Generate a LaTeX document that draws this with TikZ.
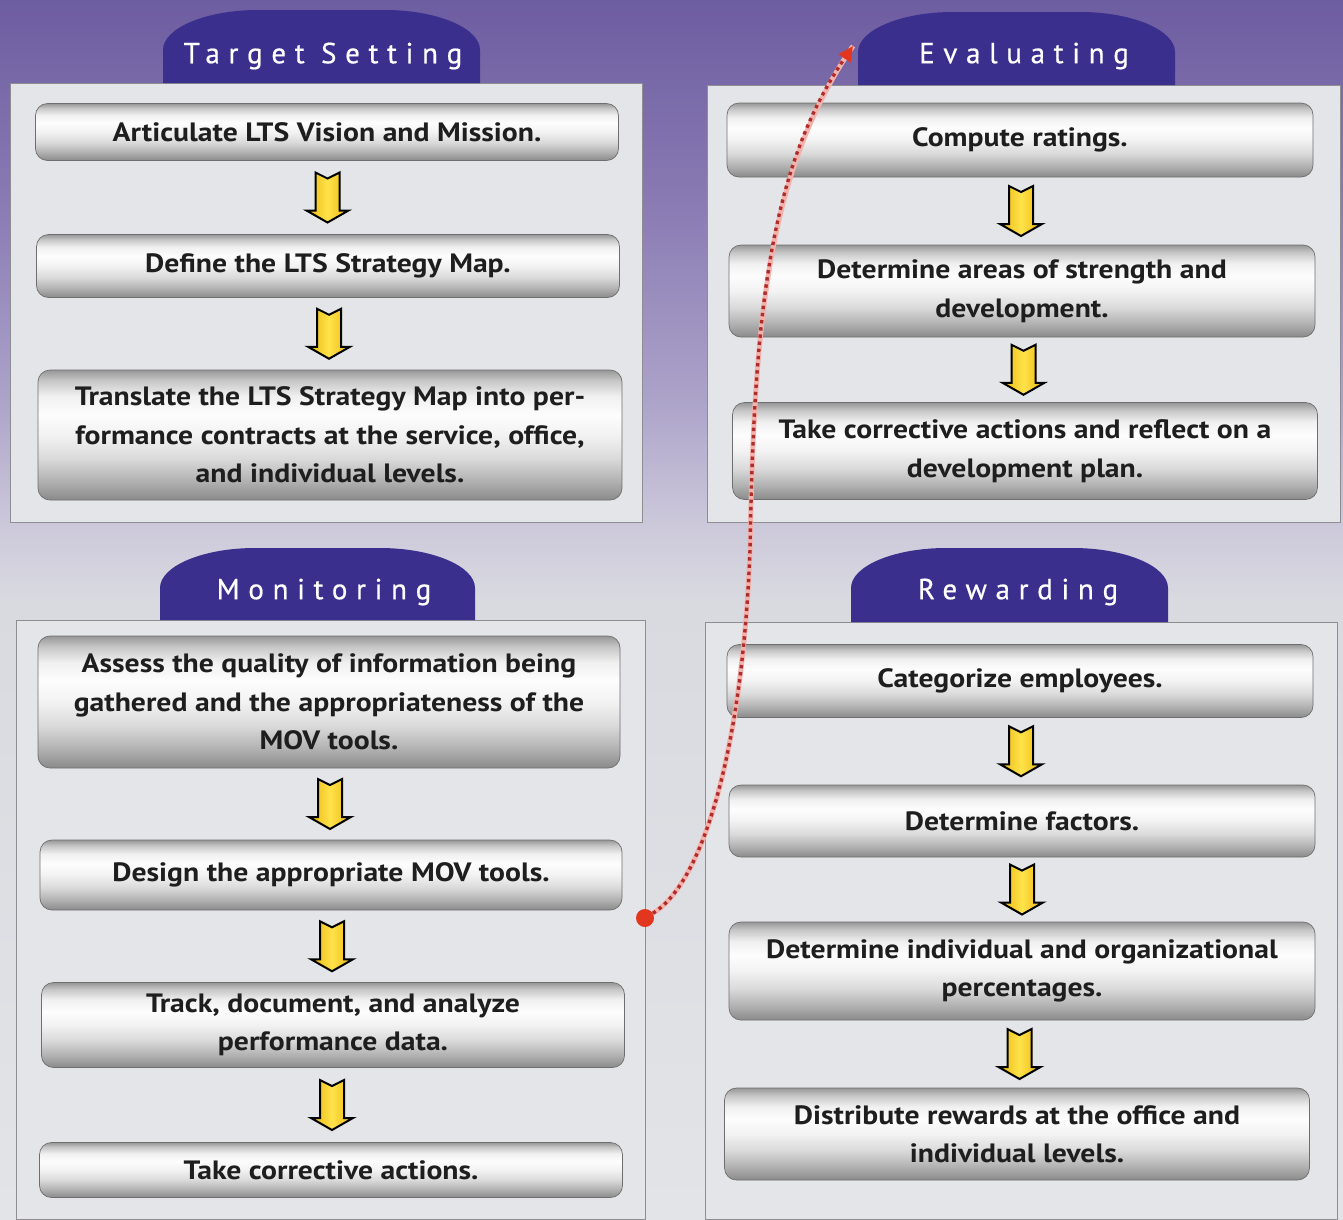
\documentclass[tikz,border=0pt]{standalone}
\usepackage{fontspec}
\usetikzlibrary{calc,arrows.meta}
\newfontfamily\boxfont[FakeStretch=1.12]{PT Sans}
\newfontfamily\tabfont[LetterSpace=30, FakeBold=0.6]{PT Sans}

% page background, top to bottom
\definecolor{bgTop}{HTML}{6D5DA1}
\definecolor{bgA}{HTML}{897AB3}
\definecolor{bgB}{HTML}{ACA3C9}
\definecolor{bgC}{HTML}{CBC7DA}
\definecolor{bgD}{HTML}{D9DAE0}
\definecolor{bgE}{HTML}{E3E4E7}
% panels, tabs, arrows, connector
\definecolor{panelfill}{HTML}{E4E5E8}
\definecolor{panelline}{HTML}{8E8E92}
\definecolor{tabfill}{HTML}{3B2F8E}
\definecolor{ylight}{HTML}{FFE24A}
\definecolor{ydark}{HTML}{E9B60E}
\definecolor{dotred}{HTML}{B02C28}
\definecolor{halo}{HTML}{F2B2AE}
\definecolor{tipred}{HTML}{E2361F}
\definecolor{inktext}{HTML}{1E1E1E}
% chrome bar tones
\definecolor{chA}{HTML}{8A8A8A}
\definecolor{chB}{HTML}{B0B0B0}
\definecolor{chC}{HTML}{DADADA}
\definecolor{chD}{HTML}{F2F2F2}
\definecolor{chE}{HTML}{FDFDFD}
\definecolor{chF}{HTML}{F0F0F0}
\definecolor{chG}{HTML}{C6C6C6}
\definecolor{chH}{HTML}{979797}

\pgfdeclareverticalshading{pagebg}{100bp}{color(0bp)=(bgE); color(25bp)=(bgE);
  color(50.4bp)=(bgD); color(53.7bp)=(bgC); color(58.6bp)=(bgB);
  color(66.8bp)=(bgA); color(75bp)=(bgTop); color(100bp)=(bgTop)}
\pgfdeclareverticalshading{chrome}{100bp}{color(0bp)=(chA); color(25bp)=(chA);
  color(32bp)=(chB); color(41bp)=(chC); color(50bp)=(chD); color(58bp)=(chE);
  color(65bp)=(chF); color(71bp)=(chG); color(75bp)=(chH); color(100bp)=(chH)}

\newcommand\phasetab[4]{%
  \fill[tabfill] (#1,#4) -- (#1,#3+40) .. controls (#1,#3+18) and (#1+43,#3) .. (#1+95,#3)
    -- (#2-95,#3) .. controls (#2-43,#3) and (#2,#3+18) .. (#2,#3+40) -- (#2,#4) -- cycle;}

\tikzset{
  panel/.style={fill=panelfill, draw=panelline, line width=0.8pt},
  tabtitle/.style={text=white, font=\tabfont\fontsize{29}{31}\selectfont},
  stepbox/.style={shading=chrome, draw=chA!80!black, line width=0.7pt,
    rounded corners=12pt, align=center, text=inktext,
    font=\boxfont\bfseries\fontsize{26.5}{38.5}\selectfont},
  downarrow/.pic={
    \draw[line width=2pt, line join=miter, left color=ydark, right color=ydark,
      middle color=ylight]
      (-12,-25) -- (0,-19) -- (12,-25) -- (12,13) -- (21,13) -- (0,25)
      -- (-21,13) -- (-12,13) -- cycle;},
  halopath/.style={halo, line width=5pt},
  dotpath/.style={dotred, line width=3.4pt, dash pattern=on 3.4pt off 3.8pt},
}

\begin{document}
\begin{tikzpicture}[x=1pt, y=-1pt]
\useasboundingbox (0,0) rectangle (1343,1219);
\shade[shading=pagebg] (0,0) rectangle (1343,1219);

% four phase panels
\path[panel] (10,83) rectangle (642,522);
\path[panel] (707,85) rectangle (1340,522);
\path[panel] (16,620) rectangle (645,1219);
\path[panel] (705,622) rectangle (1337,1219);

% header tabs
\phasetab{163}{480}{10}{83}
\phasetab{858}{1175}{12}{85}
\phasetab{160}{475}{548}{620}
\phasetab{851}{1168}{548}{622}
\node[tabtitle] (tsTab) at (323,56) {Target Setting};
\node[tabtitle] (evTab) at (1024,56) {Evaluating};
\node[tabtitle] (moTab) at (324,592) {Monitoring};
\node[tabtitle] (rwTab) at (1018,592) {Rewarding};

% Target Setting
\node[stepbox, minimum width=583pt, minimum height=57pt] (ts1) at (327,132)
  {Articulate LTS Vision and Mission.};
\node[stepbox, minimum width=583pt, minimum height=63pt] (ts2) at (328,266)
  {Define the LTS Strategy Map.};
\node[stepbox, minimum width=584pt, minimum height=130pt] (ts3) at (330,435)
  {Translate the LTS Strategy Map into per-\\formance contracts at the service, office,\\and individual levels.};

% Evaluating
\node[stepbox, minimum width=586pt, minimum height=74pt] (ev1) at (1020,140)
  {Compute ratings.};
\node[stepbox, minimum width=586pt, minimum height=92pt] (ev2) at (1022,291)
  {Determine areas of strength and\\development.};
\node[stepbox, minimum width=585pt, minimum height=97pt] (ev3) at (1025,451)
  {Take corrective actions and reflect on a\\development plan.};

% Monitoring
\node[stepbox, minimum width=582pt, minimum height=132pt] (mo1) at (329,702)
  {Assess the quality of information being\\gathered and the appropriateness of the\\MOV tools.};
\node[stepbox, minimum width=582pt, minimum height=70pt] (mo2) at (331,875)
  {Design the appropriate MOV tools.};
\node[stepbox, minimum width=583pt, minimum height=85pt] (mo3) at (333,1025)
  {Track, document, and analyze\\performance data.};
\node[stepbox, minimum width=583pt, minimum height=55pt] (mo4) at (331,1170)
  {Take corrective actions.};

% Rewarding
\node[stepbox, minimum width=586pt, minimum height=73pt] (rw1) at (1020,681)
  {Categorize employees.};
\node[stepbox, minimum width=586pt, minimum height=72pt] (rw2) at (1022,821)
  {Determine factors.};
\node[stepbox, minimum width=586pt, minimum height=98pt] (rw3) at (1022,971)
  {Determine individual and organizational\\percentages.};
\node[stepbox, minimum width=585pt, minimum height=92pt] (rw4) at (1017,1134)
  {Distribute rewards at the office and\\individual levels.};

% yellow step arrows between consecutive boxes
\foreach \a/\b in {ts1/ts2, ts2/ts3, ev1/ev2, ev2/ev3, mo1/mo2, mo2/mo3, mo3/mo4,
                   rw1/rw2, rw2/rw3, rw3/rw4}
  \path ($(\a.south)!0.5!(\b.north)$) pic {downarrow};

% dotted red link from Monitoring up to Evaluating
\node[circle, fill=tipred, inner sep=0pt, minimum size=18pt] (linkStart) at (645,918) {};
\coordinate (linkMid) at (750,550);
\coordinate (linkEnd) at (853,46);
\draw[halopath] (linkStart) .. controls (700,885) and (742,760) .. (linkMid)
  .. controls (754,320) and (768,170) .. (linkEnd);
\draw[dotpath, -{Triangle[length=15pt, width=14pt, fill=tipred, color=tipred]}]
  (linkStart) .. controls (700,885) and (742,760) .. (linkMid)
  .. controls (754,320) and (768,170) .. (linkEnd);
\end{tikzpicture}
\end{document}
